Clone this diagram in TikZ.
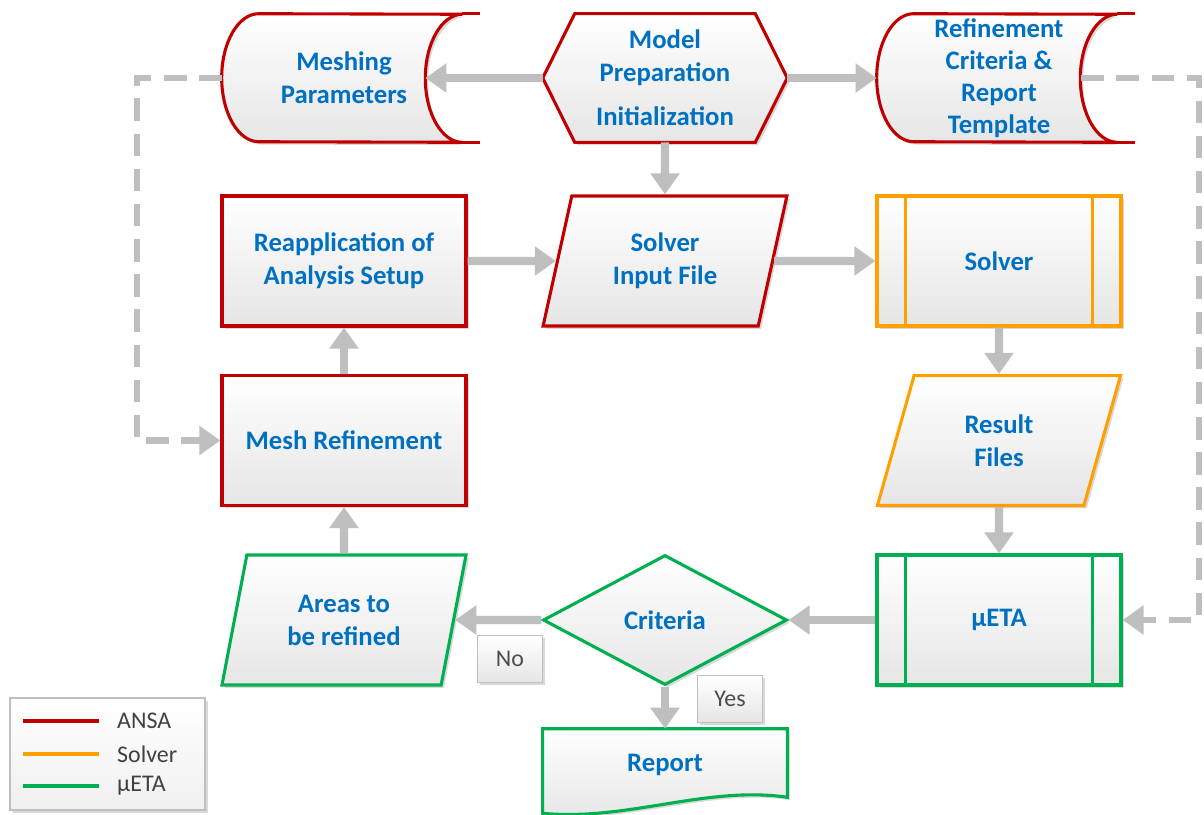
\documentclass[tikz,border=0pt]{standalone}
\usepackage{fontspec}
\setmainfont{Carlito}
\usetikzlibrary{arrows.meta,shapes.geometric,shadows,backgrounds}

\definecolor{ansared}{HTML}{C00000}
\definecolor{solverorange}{HTML}{FFA000}
\definecolor{metagreen}{HTML}{00B050}
\definecolor{textblue}{HTML}{0070C0}
\definecolor{linkgray}{HTML}{BFBFBF}

\tikzset{
  shapefill/.style={line width=2.2pt, top color=white, bottom color=black!10,
    drop shadow={opacity=0.3, shadow xshift=2pt, shadow yshift=-2pt}},
  flowtext/.style={align=center, text=textblue, font=\fontsize{19}{23.5}\selectfont\bfseries},
  blockbox/.style={shapefill, flowtext, rectangle, minimum width=6.1cm, minimum height=3.25cm},
  iobox/.style={shapefill, flowtext, trapezium, trapezium left angle=74, trapezium right angle=106,
    trapezium stretches, inner sep=0pt, minimum width=6.1cm, minimum height=3.25cm},
  holder/.style={flowtext, rectangle, inner sep=0pt, minimum width=6.1cm, minimum height=3.2cm},
  conn/.style={draw=linkgray, line width=6pt, -{Triangle[length=15pt,width=20pt]}},
  dashconn/.style={draw=linkgray, line width=4.3pt, dash pattern=on 16pt off 9pt,
    -{Triangle[length=15pt,width=20pt]}},
  tagbox/.style={rectangle, draw=black!25, line width=1pt, top color=white, bottom color=black!10,
    drop shadow={opacity=0.3, shadow xshift=2pt, shadow yshift=-2pt},
    minimum width=1.63cm, minimum height=1.18cm, text=black!70, font=\fontsize{17}{20}\selectfont},
  legendtext/.style={anchor=west, text=black!75, font=\fontsize{17}{20}\selectfont}
}

% stored data outline round a holder node: #1 name, #2 colour
\newcommand{\storedshape}[2]{%
  \path[shapefill, draw=#2] ([shift={(37,0)}]#1.north west)
    arc[start angle=90, end angle=270, x radius=0.925cm, y radius=1.6cm]
    -- ([shift={(-4,0)}]#1.south east)
    arc[start angle=270, end angle=90, x radius=0.925cm, y radius=1.6cm] -- cycle;
  \draw[line width=2.2pt, #2] ([shift={(-4,0)}]#1.north east) -- ([shift={(14,0)}]#1.north east);
  \draw[line width=2.2pt, #2] ([shift={(-4,0)}]#1.south east) -- ([shift={(14,0)}]#1.south east);
}

\begin{document}
\begin{tikzpicture}[x=0.025cm, y=-0.025cm]
  \useasboundingbox (0,0) rectangle (1204,815);

  % top row
  \node[holder] (meshpar) at (344,78) {Meshing\\Parameters};
  \node[holder] (prep) at (665,78) {Model\\Preparation\\[8pt]Initialization};
  \node[holder, font=\fontsize{19}{22.7}\selectfont\bfseries] (refcrit) at (999,78)
    {Refinement\\Criteria \&\\Report\\Template};
  \node[holder, minimum height=1.8cm] (report) at (665,765) {Report};

  \begin{scope}[on background layer]
    \storedshape{meshpar}{ansared}
    \storedshape{refcrit}{ansared}
    \path[shapefill, draw=ansared] (prep.west) -- ([shift={(32,0)}]prep.north west)
      -- ([shift={(-32,0)}]prep.north east) -- (prep.east)
      -- ([shift={(-32,0)}]prep.south east) -- ([shift={(32,0)}]prep.south west) -- cycle;
    \path[shapefill, draw=metagreen] (report.north west) -- (report.north east)
      -- ([shift={(0,-4)}]report.south east)
      .. controls ([shift={(-80,-16)}]report.south east) and ([shift={(-160,20)}]report.south east)
      .. ([shift={(0,12)}]report.south west) -- cycle;
  \end{scope}

  % middle rows
  \node[blockbox, draw=ansared] (reapp) at (344,261) {Reapplication of\\Analysis Setup};
  \node[iobox, draw=ansared] (solverin) at (665,261) {Solver\\Input File};
  \node[blockbox, draw=solverorange] (solver) at (999,261) {Solver};
  \draw[line width=2.2pt, solverorange] ([shift={(30,0)}]solver.north west) -- ([shift={(30,0)}]solver.south west);
  \draw[line width=2.2pt, solverorange] ([shift={(-30,0)}]solver.north east) -- ([shift={(-30,0)}]solver.south east);

  \node[blockbox, draw=ansared] (meshref) at (344,440.5) {Mesh Refinement};
  \node[iobox, draw=solverorange] (result) at (999,440.5) {Result\\Files};

  % bottom row
  \node[iobox, draw=metagreen] (areas) at (344,620) {Areas to\\be refined};
  \node[shapefill, flowtext, diamond, draw=metagreen, inner sep=0pt,
    minimum width=6.1cm, minimum height=3.25cm] (crit) at (665,620) {Criteria};
  \node[blockbox, draw=metagreen] (meta) at (999,620) {µETA};
  \draw[line width=2.2pt, metagreen] ([shift={(30,0)}]meta.north west) -- ([shift={(30,0)}]meta.south west);
  \draw[line width=2.2pt, metagreen] ([shift={(-30,0)}]meta.north east) -- ([shift={(-30,0)}]meta.south east);

  \node[tagbox] (no) at (510,659) {No};
  \node[tagbox] (yes) at (730,699) {Yes};

  % connectors
  \coordinate (meshpar-in) at ([shift={(-41,0)}]meshpar.east);
  \coordinate (refcrit-out) at ([shift={(-40,0)}]refcrit.east);
  \draw[conn] (prep.west) -- (meshpar-in);
  \draw[conn] (prep.east) -- (refcrit.west);
  \draw[conn] (prep) -- (solverin);
  \draw[conn] (reapp) -- (solverin);
  \draw[conn] (solverin) -- (solver);
  \draw[conn] (solver) -- (result);
  \draw[conn] (result) -- (meta);
  \draw[conn] (meta) -- (crit);
  \draw[conn] (crit) -- (areas);
  \draw[conn] (crit) -- (report);
  \draw[conn] (areas) -- (meshref);
  \draw[conn] (meshref) -- (reapp);
  \draw[dashconn] (meshpar.west) -- ++(-85,0) |- (meshref.west);
  \draw[dashconn] (refcrit-out) -- ++(118,0) |- (meta.east);

  % legend
  \node[rectangle, draw=black!25, line width=1pt, top color=white, bottom color=black!6,
    drop shadow={opacity=0.3, shadow xshift=2pt, shadow yshift=-2pt},
    minimum width=4.875cm, minimum height=2.8cm] (legend) at (107.5,754) {};
  \draw[line width=2.5pt, ansared] ([shift={(14,-33)}]legend.west) -- ([shift={(90,-33)}]legend.west);
  \draw[line width=2.5pt, solverorange] ([shift={(14,0)}]legend.west) -- ([shift={(90,0)}]legend.west);
  \draw[line width=2.5pt, metagreen] ([shift={(14,32)}]legend.west) -- ([shift={(90,32)}]legend.west);
  \node[legendtext] (lg-ansa) at ([shift={(103,-33)}]legend.west) {ANSA};
  \node[legendtext] (lg-solver) at ([shift={(103,0)}]legend.west) {Solver};
  \node[legendtext] (lg-meta) at ([shift={(103,32)}]legend.west) {µETA};

\end{tikzpicture}
\end{document}
